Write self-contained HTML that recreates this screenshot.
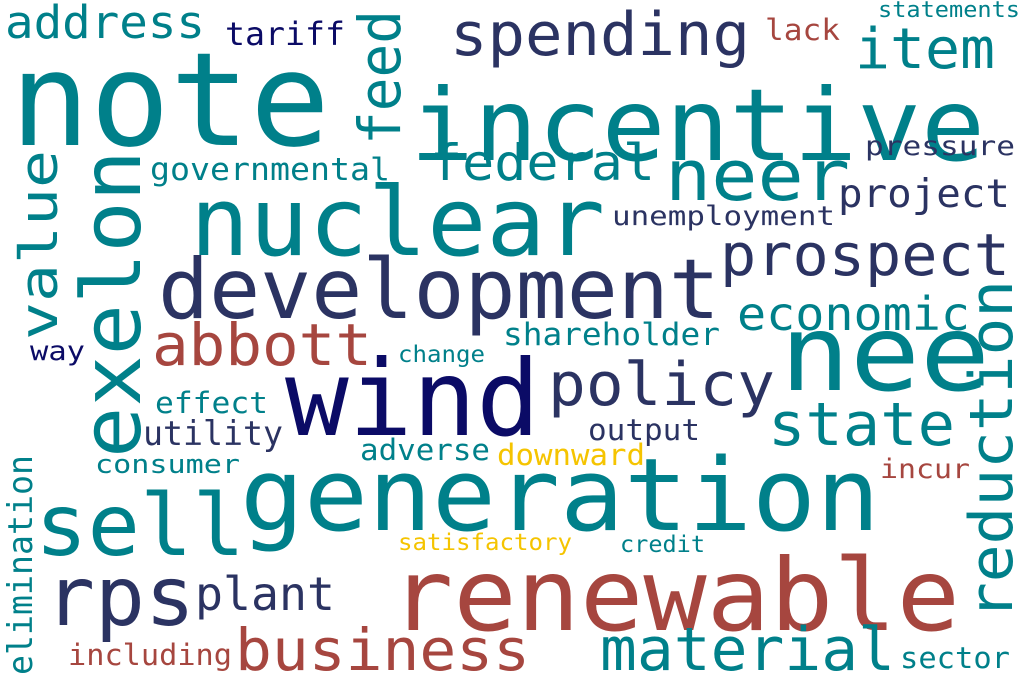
<!DOCTYPE html>
<html><head><meta charset="utf-8"><style>
html,body{margin:0;padding:0;background:#fff;}
svg{display:block}
text{font-family:"DejaVu Sans Mono","Liberation Mono",monospace;}
.t{fill:#00808a}.n{fill:#2b3362}.d{fill:#0b0b66}.b{fill:#a6463f}.g{fill:#f5c400}
</style></head><body>
<svg width="1024" height="682" viewBox="0 0 1024 682">
<rect width="1024" height="682" fill="#fff"/>
<text class="t" x="10" y="145" font-size="130" textLength="320" lengthAdjust="spacingAndGlyphs">note</text>
<text class="t" x="410" y="160" font-size="100" textLength="575" lengthAdjust="spacingAndGlyphs">incentive</text>
<text class="t" x="190" y="255" font-size="95" textLength="415" lengthAdjust="spacingAndGlyphs">nuclear</text>
<text class="n" x="158" y="318" font-size="83" textLength="562" lengthAdjust="spacingAndGlyphs">development</text>
<text class="d" x="285" y="435" font-size="105" textLength="255" lengthAdjust="spacingAndGlyphs">wind</text>
<text class="t" x="240" y="530" font-size="101" textLength="640" lengthAdjust="spacingAndGlyphs">generation</text>
<text class="b" x="390" y="630" font-size="100" textLength="570" lengthAdjust="spacingAndGlyphs">renewable</text>
<text class="t" x="35" y="555" font-size="86" textLength="210" lengthAdjust="spacingAndGlyphs">sell</text>
<text class="n" x="45" y="625" font-size="82" textLength="150" lengthAdjust="spacingAndGlyphs">rps</text>
<text class="n" x="195" y="610" font-size="46" textLength="140" lengthAdjust="spacingAndGlyphs">plant</text>
<text class="b" x="235" y="670" font-size="58" textLength="295" lengthAdjust="spacingAndGlyphs">business</text>
<text class="t" x="600" y="670" font-size="60" textLength="295" lengthAdjust="spacingAndGlyphs">material</text>
<text class="t" x="780" y="390" font-size="105" textLength="210" lengthAdjust="spacingAndGlyphs">nee</text>
<text class="t" x="665" y="200" font-size="70" textLength="185" lengthAdjust="spacingAndGlyphs">neer</text>
<text class="n" x="450" y="55" font-size="60" textLength="300" lengthAdjust="spacingAndGlyphs">spending</text>
<text class="t" x="855" y="68" font-size="56" textLength="140" lengthAdjust="spacingAndGlyphs">item</text>
<text class="t" x="5" y="38" font-size="45" textLength="200" lengthAdjust="spacingAndGlyphs">address</text>
<text class="d" x="225" y="45" font-size="32" textLength="120" lengthAdjust="spacingAndGlyphs">tariff</text>
<text class="b" x="765" y="40" font-size="29" textLength="75" lengthAdjust="spacingAndGlyphs">lack</text>
<text class="t" x="878" y="17" font-size="22" textLength="142" lengthAdjust="spacingAndGlyphs">statements</text>
<text class="t" x="430" y="180" font-size="50" textLength="225" lengthAdjust="spacingAndGlyphs">federal</text>
<text class="t" x="150" y="180" font-size="31" textLength="240" lengthAdjust="spacingAndGlyphs">governmental</text>
<text class="n" x="865" y="155" font-size="27" textLength="150" lengthAdjust="spacingAndGlyphs">pressure</text>
<text class="n" x="838" y="207" font-size="39" textLength="172" lengthAdjust="spacingAndGlyphs">project</text>
<text class="n" x="612" y="225" font-size="27" textLength="223" lengthAdjust="spacingAndGlyphs">unemployment</text>
<text class="n" x="720" y="275" font-size="58" textLength="290" lengthAdjust="spacingAndGlyphs">prospect</text>
<text class="b" x="152" y="365" font-size="58" textLength="220" lengthAdjust="spacingAndGlyphs">abbott</text>
<text class="t" x="737" y="330" font-size="46" textLength="233" lengthAdjust="spacingAndGlyphs">economic</text>
<text class="t" x="503" y="345" font-size="31" textLength="217" lengthAdjust="spacingAndGlyphs">shareholder</text>
<text class="d" x="30" y="360" font-size="27" textLength="55" lengthAdjust="spacingAndGlyphs">way</text>
<text class="t" x="398" y="362" font-size="23" textLength="87" lengthAdjust="spacingAndGlyphs">change</text>
<text class="n" x="548" y="405" font-size="60" textLength="227" lengthAdjust="spacingAndGlyphs">policy</text>
<text class="t" x="155" y="413" font-size="29" textLength="113" lengthAdjust="spacingAndGlyphs">effect</text>
<text class="n" x="143" y="445" font-size="34" textLength="140" lengthAdjust="spacingAndGlyphs">utility</text>
<text class="t" x="768" y="445" font-size="60" textLength="187" lengthAdjust="spacingAndGlyphs">state</text>
<text class="n" x="588" y="440" font-size="29" textLength="112" lengthAdjust="spacingAndGlyphs">output</text>
<text class="t" x="360" y="460" font-size="29" textLength="130" lengthAdjust="spacingAndGlyphs">adverse</text>
<text class="g" x="497" y="465" font-size="29" textLength="148" lengthAdjust="spacingAndGlyphs">downward</text>
<text class="t" x="95" y="473" font-size="26" textLength="145" lengthAdjust="spacingAndGlyphs">consumer</text>
<text class="b" x="880" y="478" font-size="27" textLength="90" lengthAdjust="spacingAndGlyphs">incur</text>
<text class="g" x="398" y="550" font-size="23" textLength="174" lengthAdjust="spacingAndGlyphs">satisfactory</text>
<text class="t" x="620" y="552" font-size="23" textLength="85" lengthAdjust="spacingAndGlyphs">credit</text>
<text class="b" x="68" y="665" font-size="29" textLength="164" lengthAdjust="spacingAndGlyphs">including</text>
<text class="t" x="900" y="668" font-size="29" textLength="110" lengthAdjust="spacingAndGlyphs">sector</text>
<text class="t" transform="translate(400,145) rotate(-90)" font-size="58" textLength="135" lengthAdjust="spacingAndGlyphs">feed</text>
<text class="t" transform="translate(57,340) rotate(-90)" font-size="53" textLength="190" lengthAdjust="spacingAndGlyphs">value</text>
<text class="t" transform="translate(140,458) rotate(-90)" font-size="82" textLength="308" lengthAdjust="spacingAndGlyphs">exelon</text>
<text class="t" transform="translate(1012,620) rotate(-90)" font-size="60" textLength="340" lengthAdjust="spacingAndGlyphs">reduction</text>
<text class="t" transform="translate(32,675) rotate(-90)" font-size="34" textLength="220" lengthAdjust="spacingAndGlyphs">elimination</text>
</svg>
</body></html>
